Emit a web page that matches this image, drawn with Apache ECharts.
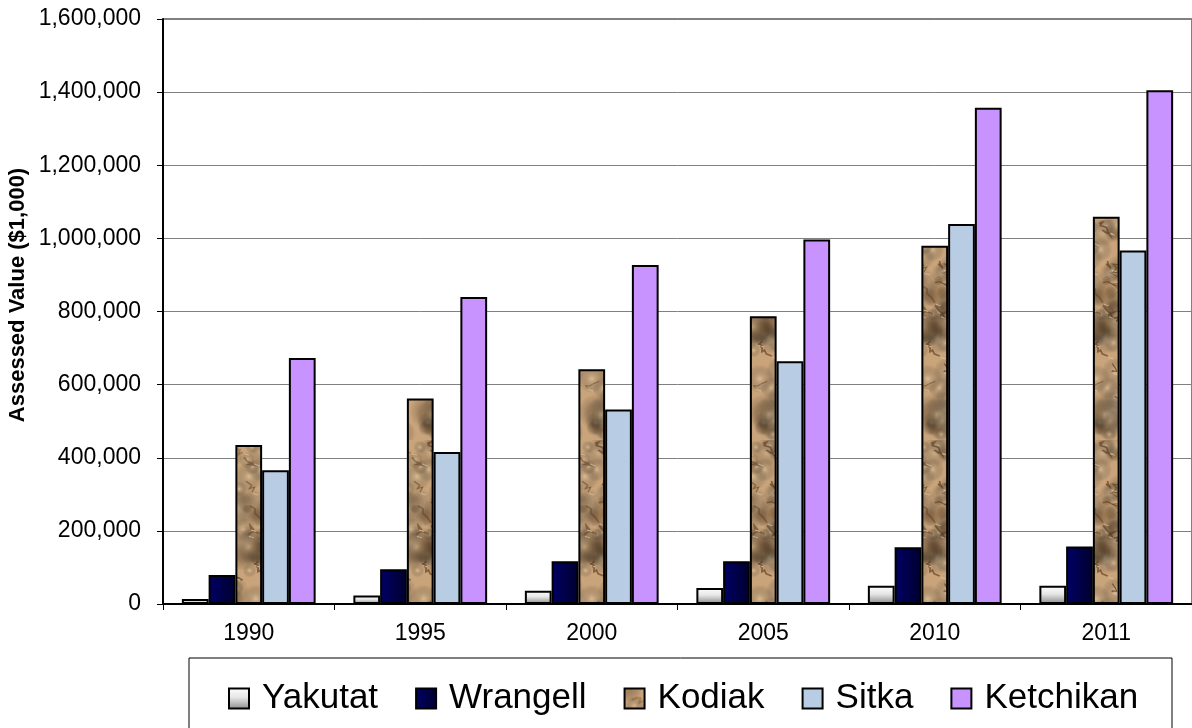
<!DOCTYPE html>
<html>
<head>
<meta charset="utf-8">
<script src="https://cdn.jsdelivr.net/npm/echarts@6/dist/echarts.min.js"></script>
<style>
  html, body { margin: 0; padding: 0; background: #fff; }
  #main { width: 1192px; height: 728px; }
</style>
</head>
<body>
<div id="main"></div>
<script>
// data (values in $1,000)
const years = ['1990', '1995', '2000', '2005', '2010', '2011'];
const yakutat = [14000, 23000, 36000, 44000, 50000, 50000];
const wrangell = [79000, 95000, 117000, 117000, 155000, 157000];
const kodiak = [435000, 562000, 642000, 787000, 980000, 1059000];
const sitka = [366000, 416000, 532000, 664000, 1039000, 967000];
const ketchikan = [673000, 840000, 927000, 997000, 1357000, 1405000];

// crumpled paper look for Kodiak (fixed seed so it draws the same every time)
function makePaper() {
    let seed = 7;
    const rnd = () => { seed = (seed * 16807) % 2147483647; return seed / 2147483647; };
    const w = 56, h = 220;
    const c = document.createElement('canvas');
    c.width = w; c.height = h;
    const g = c.getContext('2d');
    g.fillStyle = '#c9a47b';
    g.fillRect(0, 0, w, h);
    for (let i = 0; i < 70; i++) {
        const x = rnd() * w, y = rnd() * h, r = 5 + rnd() * 14;
        const grad = g.createRadialGradient(x, y, 0, x, y, r);
        const dark = rnd() < 0.45;
        grad.addColorStop(0, dark ? 'rgba(125,84,44,0.45)' : 'rgba(236,206,164,0.55)');
        grad.addColorStop(1, 'rgba(0,0,0,0)');
        g.fillStyle = grad;
        g.fillRect(x - r, y - r, 2 * r, 2 * r);
    }
    for (let i = 0; i < 26; i++) {
        let x = rnd() * w, y = rnd() * h;
        g.strokeStyle = 'rgba(88,54,24,' + (0.35 + rnd() * 0.35).toFixed(2) + ')';
        g.lineWidth = 0.8 + rnd() * 1.2;
        g.beginPath();
        g.moveTo(x, y);
        for (let k = 0; k < 4; k++) {
            x += (rnd() - 0.5) * 14;
            y += (rnd() - 0.3) * 8;
            g.lineTo(x, y);
        }
        g.stroke();
        g.strokeStyle = 'rgba(242,220,186,0.5)';
        g.lineWidth = 1;
        g.beginPath();
        g.moveTo(x + 1, y + 1.5);
        g.lineTo(x + 6, y + 3);
        g.stroke();
    }
    return c;
}

const font = 'Liberation Sans, Arial, sans-serif';
const border = { borderColor: '#000', borderWidth: 2 };

let chart = echarts.init(document.getElementById('main'));

let option = {
    backgroundColor: '#fff',
    animation: false,
    grid: {
        left: 163, top: 19, right: -9, bottom: 124,
        show: true, borderColor: '#000', borderWidth: 1
    },
    legend: {
        left: 223, top: 676,
        icon: 'rect',
        itemWidth: 20, itemHeight: 20, itemGap: 37,
        textStyle: { fontFamily: font, fontSize: 35, color: '#000', padding: [0, 0, 0, 8] },
        data: ['Yakutat', 'Wrangell', 'Kodiak', 'Sitka', 'Ketchikan']
    },
    graphic: [
        {
            type: 'rect',
            shape: { x: 189, y: 658, width: 983, height: 100 },
            style: { fill: 'none', stroke: '#000', lineWidth: 1 },
            silent: true
        },
        {
            type: 'text',
            x: 18, y: 295,
            rotation: Math.PI / 2,
            style: {
                text: 'Assessed Value ($1,000)',
                font: 'bold 22px ' + font,
                fill: '#000',
                align: 'center',
                verticalAlign: 'middle'
            },
            silent: true
        }
    ],
    xAxis: {
        type: 'category',
        data: years,
        axisLine: { lineStyle: { color: '#000', width: 2 } },
        axisTick: { show: true, length: 6, lineStyle: { color: '#000' } },
        axisLabel: { fontFamily: font, fontSize: 23, color: '#000', margin: 18 }
    },
    yAxis: {
        type: 'value',
        min: 0, max: 1600000, interval: 200000,
        axisLine: { show: true, lineStyle: { color: '#000', width: 2 } },
        axisTick: { show: true, length: 6, lineStyle: { color: '#000' } },
        axisLabel: {
            fontFamily: font, fontSize: 23, color: '#000', margin: 22,
            formatter: v => v.toLocaleString('en-US')
        },
        splitLine: { lineStyle: { color: '#808080', width: 1 } }
    },
    series: [
        {
            name: 'Yakutat', type: 'bar', data: yakutat,
            barGap: '0%', barCategoryGap: '22%',
            itemStyle: Object.assign({
                color: new echarts.graphic.LinearGradient(0, 0, 0, 1, [
                    { offset: 0, color: '#ffffff' },
                    { offset: 0.45, color: '#e6e6e6' },
                    { offset: 1, color: '#8a8a8a' }
                ])
            }, border)
        },
        {
            name: 'Wrangell', type: 'bar', data: wrangell,
            itemStyle: Object.assign({
                color: new echarts.graphic.LinearGradient(0, 0, 1, 0, [
                    { offset: 0, color: '#000066' },
                    { offset: 1, color: '#00002e' }
                ])
            }, border)
        },
        {
            name: 'Kodiak', type: 'bar', data: kodiak,
            itemStyle: Object.assign({
                color: { image: makePaper(), repeat: 'repeat' }
            }, border)
        },
        {
            name: 'Sitka', type: 'bar', data: sitka,
            itemStyle: Object.assign({ color: '#b8cce4' }, border)
        },
        {
            name: 'Ketchikan', type: 'bar', data: ketchikan,
            itemStyle: Object.assign({ color: '#c893ff' }, border)
        }
    ]
};
chart.setOption(option);
</script>
</body>
</html>
